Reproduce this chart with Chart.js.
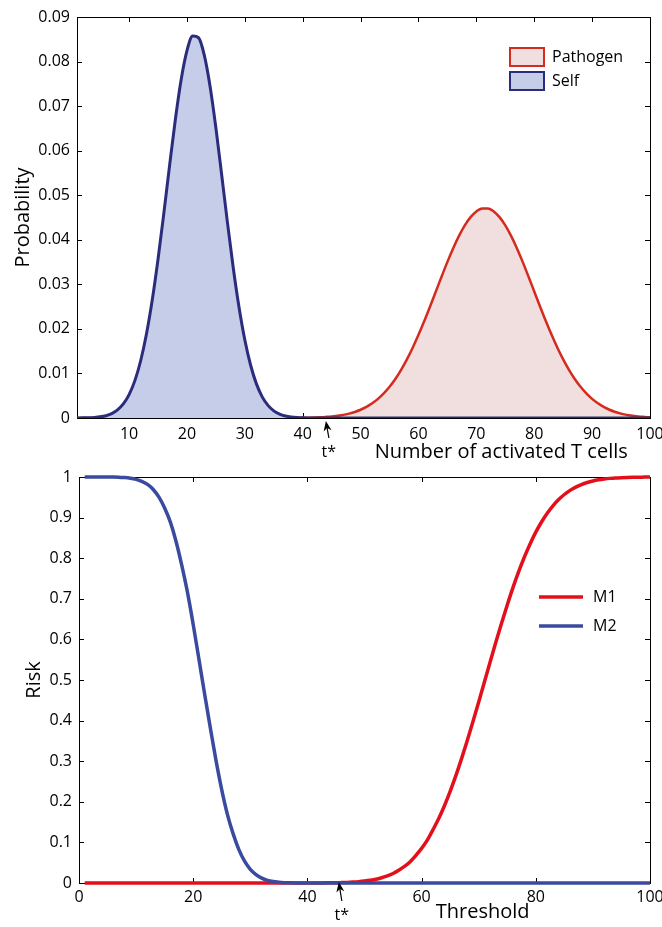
<!DOCTYPE html>
<html>
<head>
<meta charset="utf-8">
<script src="https://cdn.jsdelivr.net/npm/chart.js@4.4.1/dist/chart.umd.min.js"></script>
<style>
  body { margin: 0; background: #fff; }
  canvas { position: absolute; left: 0; }
  #top { top: 0; }
  #bottom { top: 460px; }
</style>
</head>
<body>
<canvas id="top" width="662" height="470"></canvas>
<canvas id="bottom" width="662" height="467"></canvas>
<script>
// number of activated T cells / threshold, 1..100
const cells = [
  1, 2, 3, 4, 5, 6, 7, 8, 9, 10,
  11, 12, 13, 14, 15, 16, 17, 18, 19, 20,
  21, 22, 23, 24, 25, 26, 27, 28, 29, 30,
  31, 32, 33, 34, 35, 36, 37, 38, 39, 40,
  41, 42, 43, 44, 45, 46, 47, 48, 49, 50,
  51, 52, 53, 54, 55, 56, 57, 58, 59, 60,
  61, 62, 63, 64, 65, 66, 67, 68, 69, 70,
  71, 72, 73, 74, 75, 76, 77, 78, 79, 80,
  81, 82, 83, 84, 85, 86, 87, 88, 89, 90,
  91, 92, 93, 94, 95, 96, 97, 98, 99, 100
];
const thresholds = cells.slice();

const pathogenProb = [
  0, 0, 0, 0, 0, 0, 0, 0, 0, 0,
  0, 0, 0, 0, 0, 0, 0, 0, 0, 0,
  0, 0, 0, 0, 0, 0, 0, 0, 0, 0,
  0, 0, 0, 0, 0, 0, 0.00001, 0.00002, 0.00003, 0.00005,
  0.00007, 0.00011, 0.00016, 0.00024, 0.00034, 0.0005, 0.0007, 0.00099, 0.00136, 0.00185,
  0.00248, 0.00329, 0.00429, 0.00552, 0.007, 0.00876, 0.01081, 0.01315, 0.01577, 0.01866,
  0.02176, 0.02503, 0.0284, 0.03176, 0.03504, 0.03811, 0.04087, 0.04323, 0.04508, 0.04637,
  0.04702, 0.04702, 0.04637, 0.04508, 0.04323, 0.04087, 0.03811, 0.03504, 0.03176, 0.0284,
  0.02503, 0.02176, 0.01866, 0.01577, 0.01315, 0.01081, 0.00876, 0.007, 0.00552, 0.00429,
  0.00329, 0.00248, 0.00185, 0.00136, 0.00099, 0.0007, 0.0005, 0.00034, 0.00024, 0.00016
];
const selfProb = [
  0.00001, 0.00003, 0.00006, 0.00013, 0.00026, 0.00052, 0.00099, 0.00181, 0.00315, 0.00525,
  0.00839, 0.01285, 0.01884, 0.02647, 0.03563, 0.04592, 0.0567, 0.06706, 0.07597, 0.08245,
  0.08571, 0.08534, 0.08139, 0.07436, 0.06508, 0.05455, 0.04379, 0.03368, 0.02481, 0.01751,
  0.01184, 0.00766, 0.00475, 0.00283, 0.00161, 0.00088, 0.00046, 0.00023, 0.00011, 0.00005,
  0.00002, 0, 0, 0, 0, 0, 0, 0, 0, 0,
  0, 0, 0, 0, 0, 0, 0, 0, 0, 0,
  0, 0, 0, 0, 0, 0, 0, 0, 0, 0,
  0, 0, 0, 0, 0, 0, 0, 0, 0, 0,
  0, 0, 0, 0, 0, 0, 0, 0, 0, 0,
  0, 0, 0, 0, 0, 0, 0, 0, 0, 0
];

const riskM1 = [
  0, 0, 0, 0, 0, 0, 0, 0, 0, 0,
  0, 0, 0, 0, 0, 0, 0, 0, 0, 0,
  0, 0, 0, 0, 0, 0, 0, 0, 0, 0,
  0, 0, 0, 0, 0, 0, 0, 0, 0, 0.0001,
  0.0001, 0.0002, 0.0003, 0.0004, 0.0006, 0.001, 0.0014, 0.0022, 0.0032, 0.0047,
  0.0066, 0.0091, 0.0129, 0.0174, 0.0233, 0.0314, 0.0409, 0.0526, 0.0681, 0.0853,
  0.1056, 0.1314, 0.1587, 0.1903, 0.2257, 0.2644, 0.3064, 0.3509, 0.3978, 0.4459,
  0.4952, 0.5442, 0.5929, 0.6398, 0.6848, 0.7274, 0.7667, 0.8029, 0.8352, 0.8641,
  0.8892, 0.9108, 0.9291, 0.9444, 0.9569, 0.9671, 0.9752, 0.9815, 0.9864, 0.9902,
  0.993, 0.9951, 0.9966, 0.9977, 0.9984, 0.9989, 0.9993, 0.9996, 0.9997, 0.9998
];
const riskM2 = [
  1, 1, 1, 0.9999, 0.9998, 0.9997, 0.9992, 0.9985, 0.9969, 0.9941,
  0.9893, 0.9817, 0.9693, 0.9505, 0.9236, 0.8888, 0.8413, 0.7823, 0.7157, 0.6368,
  0.5517, 0.4653, 0.3821, 0.3015, 0.2296, 0.1685, 0.121, 0.0823, 0.0537, 0.0336,
  0.0207, 0.0119, 0.0066, 0.0035, 0.0018, 0.0009, 0.0004, 0.0002, 0.0001, 0,
  0, 0, 0, 0, 0, 0, 0, 0, 0, 0,
  0, 0, 0, 0, 0, 0, 0, 0, 0, 0,
  0, 0, 0, 0, 0, 0, 0, 0, 0, 0,
  0, 0, 0, 0, 0, 0, 0, 0, 0, 0,
  0, 0, 0, 0, 0, 0, 0, 0, 0, 0,
  0, 0, 0, 0, 0, 0, 0, 0, 0, 0
];

const cellTicks = [10, 20, 30, 40, 50, 60, 70, 80, 90, 100];
const probTicks = [0, 0.01, 0.02, 0.03, 0.04, 0.05, 0.06, 0.07, 0.08, 0.09];
const probTickLabels = ['0', '0.01', '0.02', '0.03', '0.04', '0.05', '0.06', '0.07', '0.08', '0.09'];
const thresholdTicks = [0, 20, 40, 60, 80, 100];
const riskTicks = [0, 0.1, 0.2, 0.3, 0.4, 0.5, 0.6, 0.7, 0.8, 0.9, 1];
const riskTickLabels = ['0', '0.1', '0.2', '0.3', '0.4', '0.5', '0.6', '0.7', '0.8', '0.9', '1'];
const tStarTop = 44;
const tStarBottom = 45.5;

const FONT = '"Open Sans", "DejaVu Sans", sans-serif';
Chart.defaults.font.family = FONT;
Chart.defaults.color = '#000';
Chart.defaults.animation = false;

const pts = (xs, ys) => xs.map((x, i) => ({ x: x, y: ys[i] }));

// box round the plot with inward ticks, like the matlab figure
const frame = {
  id: 'frame',
  beforeDatasetsDraw(chart) {
    const { ctx, chartArea: a, scales: { x, y } } = chart;
    ctx.save();
    ctx.strokeStyle = '#000';
    ctx.lineWidth = 1;
    ctx.strokeRect(a.left + 0.5, a.top + 0.5, a.right - a.left, a.bottom - a.top);
    ctx.beginPath();
    x.ticks.forEach(t => {
      const p = Math.round(x.getPixelForValue(t.value)) + 0.5;
      ctx.moveTo(p, a.bottom); ctx.lineTo(p, a.bottom - 5);
      ctx.moveTo(p, a.top); ctx.lineTo(p, a.top + 5);
    });
    y.ticks.forEach(t => {
      const p = Math.round(y.getPixelForValue(t.value)) + 0.5;
      ctx.moveTo(a.left, p); ctx.lineTo(a.left + 5, p);
      ctx.moveTo(a.right, p); ctx.lineTo(a.right - 5, p);
    });
    ctx.stroke();
    ctx.restore();
  }
};

// x axis title, t* arrow
const notes = {
  id: 'notes',
  afterDraw(chart, args, o) {
    const { ctx, chartArea: a, scales: { x } } = chart;
    ctx.save();
    ctx.fillStyle = '#000';
    ctx.strokeStyle = '#000';
    const px = x.getPixelForValue(o.tStar);
    const tipY = a.bottom + o.tipDy;
    const tailX = px + o.lean, tailY = a.bottom + o.tailDy;
    const ang = Math.atan2(tipY - tailY, px - tailX);
    ctx.lineWidth = 1.2;
    ctx.beginPath();
    ctx.moveTo(tailX, tailY);
    ctx.lineTo(px - 6 * Math.cos(ang), tipY - 6 * Math.sin(ang));
    ctx.stroke();
    ctx.beginPath();
    ctx.moveTo(px, tipY);
    ctx.lineTo(px - 10 * Math.cos(ang) + 4 * Math.sin(ang), tipY - 10 * Math.sin(ang) - 4 * Math.cos(ang));
    ctx.lineTo(px - 7 * Math.cos(ang), tipY - 7 * Math.sin(ang));
    ctx.lineTo(px - 10 * Math.cos(ang) - 4 * Math.sin(ang), tipY - 10 * Math.sin(ang) + 4 * Math.cos(ang));
    ctx.closePath();
    ctx.fill();
    ctx.textAlign = 'center';
    ctx.textBaseline = 'middle';
    ctx.font = '16px ' + FONT;
    ctx.fillText('t*', tailX, a.bottom + o.textDy);
    ctx.font = '20px ' + FONT;
    ctx.fillText(o.title, x.getPixelForValue(o.titleAt), a.bottom + o.titleDy);
    ctx.restore();
  }
};

// legend drawn inside the plot
const key = {
  id: 'key',
  afterDraw(chart, args, o) {
    const { ctx, chartArea: a } = chart;
    ctx.save();
    ctx.font = '16px ' + FONT;
    ctx.textAlign = 'left';
    ctx.textBaseline = 'middle';
    chart.data.datasets.forEach((d, i) => {
      const x = a.right - o.right;
      const y = a.top + o.top + i * o.gap;
      if (o.kind === 'box') {
        ctx.fillStyle = d.backgroundColor;
        ctx.fillRect(x, y - 9, 34, 18);
        ctx.lineWidth = 2;
        ctx.strokeStyle = d.borderColor;
        ctx.strokeRect(x, y - 9, 34, 18);
      } else {
        ctx.lineWidth = 3.5;
        ctx.strokeStyle = d.borderColor;
        ctx.beginPath();
        ctx.moveTo(x, y);
        ctx.lineTo(x + 44, y);
        ctx.stroke();
      }
      ctx.fillStyle = '#000';
      ctx.fillText(d.label, x + o.textDx, y);
    });
    ctx.restore();
  }
};

function fixTicks(values) {
  return s => { s.ticks = values.map(v => ({ value: v })); };
}

new Chart(document.getElementById('top'), {
  type: 'line',
  data: {
    datasets: [
      {
        label: 'Pathogen',
        data: pts(cells, pathogenProb),
        borderColor: '#D52B1E',
        backgroundColor: '#F1DFE0',
        borderWidth: 2.5,
        fill: 'origin',
        pointRadius: 0,
        cubicInterpolationMode: 'monotone',
        order: 1
      },
      {
        label: 'Self',
        data: pts(cells, selfProb),
        borderColor: '#2B2C7C',
        backgroundColor: '#C5CDE9',
        borderWidth: 3,
        fill: 'origin',
        pointRadius: 0,
        cubicInterpolationMode: 'monotone',
        order: 0
      }
    ]
  },
  options: {
    responsive: false,
    devicePixelRatio: 1,
    layout: { padding: { left: 0, top: 17, right: 12, bottom: 0 } },
    plugins: {
      legend: { display: false },
      tooltip: { enabled: false },
      key: { kind: 'box', right: 140, top: 40, gap: 24, textDx: 42 },
      notes: { tStar: tStarTop, lean: 3, tipDy: 3, tailDy: 20, textDy: 34,
               title: 'Number of activated T cells', titleAt: 74.3, titleDy: 34 }
    },
    scales: {
      x: {
        type: 'linear', min: 1, max: 100,
        afterBuildTicks: fixTicks(cellTicks),
        afterFit: s => { s.height = 52; s.paddingLeft = 0; s.paddingRight = 0; },
        grid: { display: false, drawTicks: false },
        border: { display: false },
        ticks: { font: { size: 16 }, padding: 7, maxRotation: 0 }
      },
      y: {
        min: 0, max: 0.09,
        afterBuildTicks: fixTicks(probTicks),
        afterFit: s => { s.width = 77; },
        grid: { display: false, drawTicks: false },
        border: { display: false },
        ticks: { font: { size: 16 }, padding: 7, callback: (v, i) => probTickLabels[i] },
        title: { display: true, text: 'Probability', font: { size: 20 }, padding: { top: 11, bottom: 0 } }
      }
    }
  },
  plugins: [frame, notes, key]
});

new Chart(document.getElementById('bottom'), {
  type: 'line',
  data: {
    datasets: [
      {
        label: 'M1',
        data: pts(thresholds, riskM1),
        borderColor: '#E3101B',
        borderWidth: 3.5,
        fill: false,
        pointRadius: 0,
        cubicInterpolationMode: 'monotone',
        clip: 5,
        order: 1
      },
      {
        label: 'M2',
        data: pts(thresholds, riskM2),
        borderColor: '#3A4A9F',
        borderWidth: 3.5,
        fill: false,
        pointRadius: 0,
        cubicInterpolationMode: 'monotone',
        clip: 5,
        order: 0
      }
    ]
  },
  options: {
    responsive: false,
    devicePixelRatio: 1,
    layout: { padding: { left: 0, top: 17, right: 12, bottom: 0 } },
    plugins: {
      legend: { display: false },
      tooltip: { enabled: false },
      key: { kind: 'line', right: 111, top: 120, gap: 29, textDx: 54 },
      notes: { tStar: tStarBottom, lean: 3, tipDy: -1, tailDy: 18, textDy: 32,
               title: 'Threshold', titleAt: 70.7, titleDy: 29 }
    },
    scales: {
      x: {
        type: 'linear', min: 0, max: 100,
        afterBuildTicks: fixTicks(thresholdTicks),
        afterFit: s => { s.height = 44; s.paddingLeft = 0; s.paddingRight = 0; },
        grid: { display: false, drawTicks: false },
        border: { display: false },
        ticks: { font: { size: 16 }, padding: 5, maxRotation: 0 }
      },
      y: {
        min: 0, max: 1,
        afterBuildTicks: fixTicks(riskTicks),
        afterFit: s => { s.width = 79; },
        grid: { display: false, drawTicks: false },
        border: { display: false },
        ticks: { font: { size: 16 }, padding: 7, callback: (v, i) => riskTickLabels[i] },
        title: { display: true, text: 'Risk', font: { size: 20 }, padding: { top: 22, bottom: 0 } }
      }
    }
  },
  plugins: [frame, notes, key]
});
</script>
</body>
</html>
